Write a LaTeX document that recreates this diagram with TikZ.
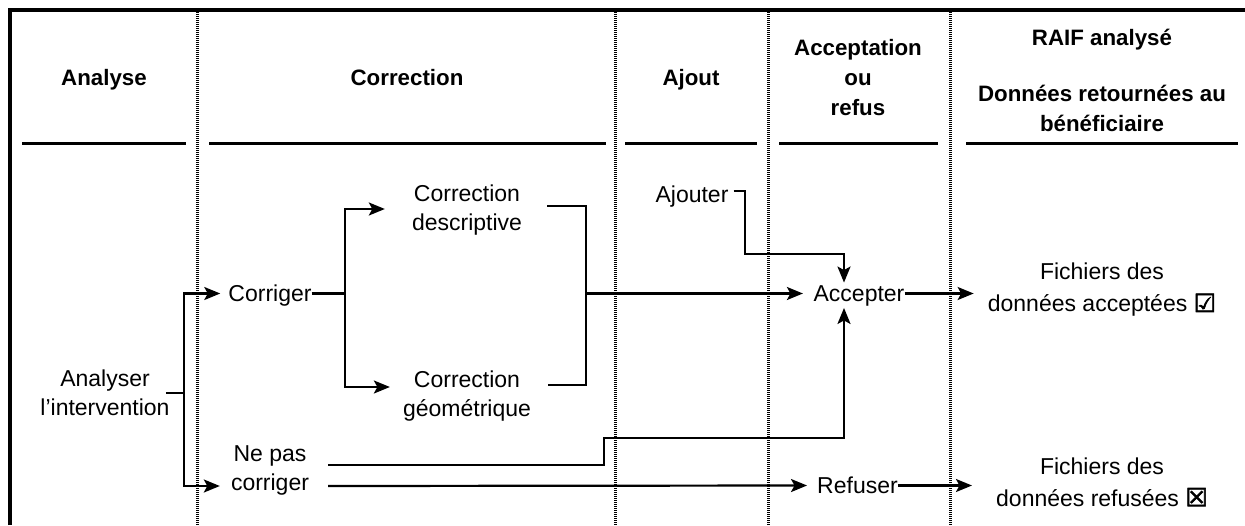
\documentclass[tikz,border=0pt]{standalone}
\usepackage{fontspec}
\setmainfont{Liberation Sans}
\newfontfamily\symfont[FakeBold=2.5]{DejaVu Sans}
\usetikzlibrary{arrows.meta,calc}
\begin{document}
\begin{tikzpicture}[x=1pt,y=-1pt,
  hdr/.style={font=\fontsize{22.3}{30}\selectfont\bfseries, align=center, inner sep=0pt},
  txt/.style={font=\fontsize{23}{29}\selectfont, align=center, inner sep=0pt},
  txtb/.style={font=\fontsize{23}{32}\selectfont, align=center, inner sep=0pt},
  one/.style={text height=16.5pt, text depth=0pt},
  frame/.style={line width=4pt},
  hrule/.style={line width=3pt},
  sep/.style={line width=3pt, dash pattern=on 1.2pt off 0.8pt},
  conn/.style={line width=2.2pt},
  arr/.style={conn, -{Stealth[length=16pt,width=13pt,inset=3.5pt]}}]
\useasboundingbox (0,0) rectangle (1245,525);
\fill[white] (0,0) rectangle (1245,525);
% frame
\draw[frame] (10,525) -- (10,10) -- (1245,10);
% separators
\foreach \x in {197,615,768,950} \draw[sep] (\x,12) -- (\x,525);
% header rules
\draw[hrule] (22,143) -- (186,143);
\draw[hrule] (209,143) -- (606,143);
\draw[hrule] (625,143) -- (757,143);
\draw[hrule] (779,143) -- (938,143);
\draw[hrule] (966,143) -- (1238,143);
% headers
\node[hdr,one] (hA) at (104,77) {Analyse};
\node[hdr,one] (hC) at (407,77) {Correction};
\node[hdr,one] (hJ) at (691,77) {Ajout};
\node[hdr] (hR) at (858,78) {Acceptation\\ou\\refus};
\node[hdr,one] (hF1) at (1102,37) {RAIF analysé};
\node[hdr] (hF2) at (1102,108) {Données retournées au\\bénéficiaire};
% body nodes
\node[txt] (an) at (105,393) {Analyser\\l’intervention};
\node[txt,one] (cor) at (270,293.5) {Corriger};
\node[txt] (npc) at (270,470) {Ne pas\\corriger};
\node[txt] (cd) at (467,210) {Correction\\descriptive};
\node[txt] (cg) at (467,396) {Correction\\géométrique};
\node[txt,one] (aj) at (692,194) {Ajouter};
\node[txt,one] (acc) at (859,293.5) {Accepter};
\node[txt,one] (ref) at (857.5,485.5) {Refuser};
\node[txtb] (fa) at (1102,290) {Fichiers des\\données acceptées {\symfont\fontsize{25}{32}\selectfont ☑}};
\node[txtb] (fr) at (1102,482) {Fichiers des\\données refusées {\symfont\fontsize{25}{32}\selectfont ☒}};
% junctions
\coordinate (jA) at (184,393);
\coordinate (jB) at (345,293.5);
\coordinate (jD) at (586,293.5);
\coordinate (cdR) at ($(cd.east)+(25,-4)$);
\coordinate (cgR) at ($(cg.east)+(17,-11)$);
\coordinate (aS) at ($(aj.east)+(5,-3)$);
\coordinate (n1) at ($(npc.east)+(19,-5)$);
\coordinate (n2) at ($(npc.east)+(19,16)$);
% connectors
\draw[conn] ([xshift=-4pt]an.east) -- (jA);
\draw[arr] (jA) |- ([xshift=-8pt]cor.west);
\draw[arr] (jA) |- ($(npc.west)+(-11,16)$);
\draw[conn] (cor.east) -- (jB);
\draw[arr] (jB) |- ($(cd.west)+(-27,-1)$);
\draw[arr] (jB) |- ($(cg.west)+(-13,-9)$);
\draw[conn] (cdR) -| (jD) |- (cgR);
\draw[arr] (jD) -- ([xshift=-10.5pt]acc.west);
\draw[arr] (aS) -| (745,254) -| ($(acc.north)+(-15,-2.5)$);
\draw[arr] (n1) -| (604,438) -| ($(acc.south)+(-15,6)$);
\draw[arr] (n2) -- ([xshift=-10pt]ref.west);
\draw[arr] (acc.east) -- ($(acc.east -| fa.west)+(-14,0)$);
\draw[arr] (ref.east) -- ($(ref.east -| fr.west)+(-24,0)$);
\end{tikzpicture}
\end{document}
